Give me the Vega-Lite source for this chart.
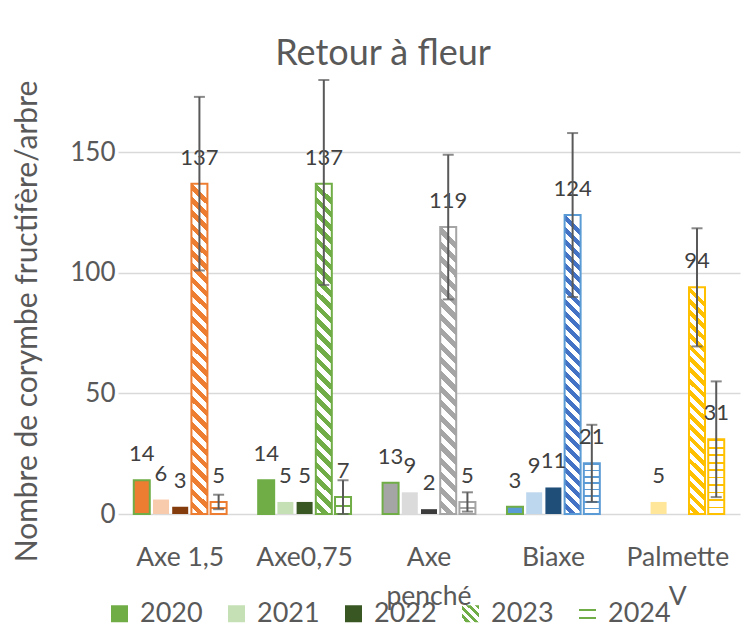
{
"$schema": "https://vega.github.io/schema/vega-lite/v6.json",
"width": 622, "height": 434,
"autosize": {"type": "none"},
"padding": {"left": 118, "top": 80, "right": 13, "bottom": 119},
"background": "white",
"config": {"font": "Lato", "view": {"stroke": null},
  "axisY": {"grid": true, "gridColor": "#D9D9D9", "gridWidth": 1.5, "domain": false, "ticks": false, "labelPadding": 3, "labelAlign": "right", "labelBaseline": "middle", "labelFontSize": 26, "labelColor": "#595959", "labelFont": "Lato",
            "titleFontSize": 30, "titleFontWeight": "normal", "titleColor": "#595959", "titleFont": "Lato", "titleX": -82, "titleY": 241, "titleAlign": "center", "titleBaseline": "alphabetic", "titleAngle": -90}},
"title": {"text": "Retour à fleur", "fontSize": 36, "font": "Lato", "fontWeight": "normal", "color": "#595959", "anchor": "middle", "frame": "group", "baseline": "alphabetic", "offset": 13, "dx": -46, "dy": 35},
"data": {"values": [
{"cat": "Axe 1,5", "year": "2020", "v": 14},
{"cat": "Axe 1,5", "year": "2021", "v": 6},
{"cat": "Axe 1,5", "year": "2022", "v": 3},
{"cat": "Axe 1,5", "year": "2023", "v": 137, "lo": 101, "hi": 173},
{"cat": "Axe 1,5", "year": "2024", "v": 5, "lo": 2, "hi": 8},
{"cat": "Axe0,75", "year": "2020", "v": 14},
{"cat": "Axe0,75", "year": "2021", "v": 5},
{"cat": "Axe0,75", "year": "2022", "v": 5},
{"cat": "Axe0,75", "year": "2023", "v": 137, "lo": 95, "hi": 180},
{"cat": "Axe0,75", "year": "2024", "v": 7, "lo": 0, "hi": 14},
{"cat": "Axe penché", "year": "2020", "v": 13},
{"cat": "Axe penché", "year": "2021", "v": 9},
{"cat": "Axe penché", "year": "2022", "v": 2},
{"cat": "Axe penché", "year": "2023", "v": 119, "lo": 89, "hi": 149},
{"cat": "Axe penché", "year": "2024", "v": 5, "lo": 1, "hi": 9},
{"cat": "Biaxe", "year": "2020", "v": 3},
{"cat": "Biaxe", "year": "2021", "v": 9},
{"cat": "Biaxe", "year": "2022", "v": 11},
{"cat": "Biaxe", "year": "2023", "v": 124, "lo": 90, "hi": 158},
{"cat": "Biaxe", "year": "2024", "v": 21, "lo": 5, "hi": 37},
{"cat": "Palmette V", "year": "2021", "v": 5},
{"cat": "Palmette V", "year": "2023", "v": 94, "lo": 69.5, "hi": 118.5},
{"cat": "Palmette V", "year": "2024", "v": 31, "lo": 7, "hi": 55}
]},
"encoding": {
  "x": {"field": "cat", "type": "nominal", "sort": ["Axe 1,5", "Axe0,75", "Axe penché", "Biaxe", "Palmette V"],
        "scale": {"paddingInner": 0.228, "paddingOuter": 0.114},
        "axis": {"title": null, "domain": false, "ticks": false, "labelAngle": 0, "labelPadding": 30, "labelFontSize": 26.5, "labelColor": "#595959", "labelFont": "Lato", "labelLineHeight": 39, "labelLimit": 0,
                 "labelExpr": "datum.value === 'Axe penché' ? ['Axe', 'penché'] : datum.value === 'Palmette V' ? ['Palmette', 'V'] : datum.label"}},
  "xOffset": {"field": "year", "type": "nominal", "scale": {"domain": ["2020", "2021", "2022", "2023", "2024"], "paddingInner": 0.167, "paddingOuter": 0.083}}
},
"layer": [
{
 "mark": {"type": "bar", "strokeWidth": 2},
 "encoding": {
  "y": {"field": "v", "type": "quantitative", "scale": {"domain": [0, 180], "nice": false},
        "axis": {"title": "Nombre de corymbe fructifère/arbre", "values": [0, 50, 100, 150], "labelAlign": "right", "labelExpr": "datum.label + '\u2003\u200a'"}},
  "fill": {"field": "year", "type": "nominal",
    "scale": {"domain": ["2020", "2021", "2022", "2023", "2024"], "range": ["#70AD47", "#C5E0B4", "#385723",
       {"expr": "{gradient:'linear',x1:1,y1:0,x2:0,y2:1,stops:[{offset:0,color:'#70AD47'},{offset:0.125,color:'#70AD47'},{offset:0.125,color:'#fff'},{offset:0.25,color:'#fff'},{offset:0.25,color:'#70AD47'},{offset:0.375,color:'#70AD47'},{offset:0.375,color:'#fff'},{offset:0.5,color:'#fff'},{offset:0.5,color:'#70AD47'},{offset:0.625,color:'#70AD47'},{offset:0.625,color:'#fff'},{offset:0.75,color:'#fff'},{offset:0.75,color:'#70AD47'},{offset:0.875,color:'#70AD47'},{offset:0.875,color:'#fff'},{offset:1,color:'#fff'}]}"},
       {"expr": "{gradient:'linear',x1:0,y1:0,x2:0,y2:1,stops:[{offset:0,color:'#fff'},{offset:0.2,color:'#fff'},{offset:0.2,color:'#70AD47'},{offset:0.32,color:'#70AD47'},{offset:0.32,color:'#fff'},{offset:0.68,color:'#fff'},{offset:0.68,color:'#70AD47'},{offset:0.8,color:'#70AD47'},{offset:0.8,color:'#fff'},{offset:1,color:'#fff'}]}"}
    ]},
    "legend": {"orient": "none", "legendX": -12, "legendY": 520, "direction": "horizontal", "title": null, "symbolType": "square", "symbolSize": 289, "labelFontSize": 27, "labelColor": "#595959", "labelFont": "Lato", "columnPadding": 20, "labelOffset": 7, "padding": 0, "symbolStrokeWidth": 0},
    "condition": [
      {"test": "datum.cat === 'Axe 1,5' && datum.year === '2020'", "value": "#ED7D31"},
      {"test": "datum.cat === 'Axe 1,5' && datum.year === '2021'", "value": "#F8CBAD"},
      {"test": "datum.cat === 'Axe 1,5' && datum.year === '2022'", "value": "#843C0C"},
      {"test": "datum.cat === 'Axe 1,5' && datum.year === '2023'", "value": {"gradient": "linear", "x1": 0.048, "y1": 0, "x2": 0, "y2": 1, "stops": [{"offset":0,"color":"#fff"},{"offset":0,"color":"#ED7D31"},{"offset":0.02,"color":"#ED7D31"},{"offset":0.02,"color":"#fff"},{"offset":0.04,"color":"#fff"},{"offset":0.04,"color":"#ED7D31"},{"offset":0.06,"color":"#ED7D31"},{"offset":0.06,"color":"#fff"},{"offset":0.08,"color":"#fff"},{"offset":0.08,"color":"#ED7D31"},{"offset":0.1,"color":"#ED7D31"},{"offset":0.1,"color":"#fff"},{"offset":0.12,"color":"#fff"},{"offset":0.12,"color":"#ED7D31"},{"offset":0.14,"color":"#ED7D31"},{"offset":0.14,"color":"#fff"},{"offset":0.16,"color":"#fff"},{"offset":0.16,"color":"#ED7D31"},{"offset":0.18,"color":"#ED7D31"},{"offset":0.18,"color":"#fff"},{"offset":0.2,"color":"#fff"},{"offset":0.2,"color":"#ED7D31"},{"offset":0.22,"color":"#ED7D31"},{"offset":0.22,"color":"#fff"},{"offset":0.24,"color":"#fff"},{"offset":0.24,"color":"#ED7D31"},{"offset":0.26,"color":"#ED7D31"},{"offset":0.26,"color":"#fff"},{"offset":0.28,"color":"#fff"},{"offset":0.28,"color":"#ED7D31"},{"offset":0.3,"color":"#ED7D31"},{"offset":0.3,"color":"#fff"},{"offset":0.32,"color":"#fff"},{"offset":0.32,"color":"#ED7D31"},{"offset":0.34,"color":"#ED7D31"},{"offset":0.34,"color":"#fff"},{"offset":0.36,"color":"#fff"},{"offset":0.36,"color":"#ED7D31"},{"offset":0.38,"color":"#ED7D31"},{"offset":0.38,"color":"#fff"},{"offset":0.4,"color":"#fff"},{"offset":0.4,"color":"#ED7D31"},{"offset":0.42,"color":"#ED7D31"},{"offset":0.42,"color":"#fff"},{"offset":0.44,"color":"#fff"},{"offset":0.44,"color":"#ED7D31"},{"offset":0.46,"color":"#ED7D31"},{"offset":0.46,"color":"#fff"},{"offset":0.48,"color":"#fff"},{"offset":0.48,"color":"#ED7D31"},{"offset":0.5,"color":"#ED7D31"},{"offset":0.5,"color":"#fff"},{"offset":0.52,"color":"#fff"},{"offset":0.52,"color":"#ED7D31"},{"offset":0.54,"color":"#ED7D31"},{"offset":0.54,"color":"#fff"},{"offset":0.56,"color":"#fff"},{"offset":0.56,"color":"#ED7D31"},{"offset":0.58,"color":"#ED7D31"},{"offset":0.58,"color":"#fff"},{"offset":0.6,"color":"#fff"},{"offset":0.6,"color":"#ED7D31"},{"offset":0.62,"color":"#ED7D31"},{"offset":0.62,"color":"#fff"},{"offset":0.64,"color":"#fff"},{"offset":0.64,"color":"#ED7D31"},{"offset":0.66,"color":"#ED7D31"},{"offset":0.66,"color":"#fff"},{"offset":0.68,"color":"#fff"},{"offset":0.68,"color":"#ED7D31"},{"offset":0.7,"color":"#ED7D31"},{"offset":0.7,"color":"#fff"},{"offset":0.72,"color":"#fff"},{"offset":0.72,"color":"#ED7D31"},{"offset":0.74,"color":"#ED7D31"},{"offset":0.74,"color":"#fff"},{"offset":0.76,"color":"#fff"},{"offset":0.76,"color":"#ED7D31"},{"offset":0.78,"color":"#ED7D31"},{"offset":0.78,"color":"#fff"},{"offset":0.8,"color":"#fff"},{"offset":0.8,"color":"#ED7D31"},{"offset":0.82,"color":"#ED7D31"},{"offset":0.82,"color":"#fff"},{"offset":0.84,"color":"#fff"},{"offset":0.84,"color":"#ED7D31"},{"offset":0.86,"color":"#ED7D31"},{"offset":0.86,"color":"#fff"},{"offset":0.88,"color":"#fff"},{"offset":0.88,"color":"#ED7D31"},{"offset":0.9,"color":"#ED7D31"},{"offset":0.9,"color":"#fff"},{"offset":0.92,"color":"#fff"},{"offset":0.92,"color":"#ED7D31"},{"offset":0.94,"color":"#ED7D31"},{"offset":0.94,"color":"#fff"},{"offset":0.96,"color":"#fff"},{"offset":0.96,"color":"#ED7D31"},{"offset":0.98,"color":"#ED7D31"},{"offset":0.98,"color":"#fff"},{"offset":1,"color":"#fff"}]}},
      {"test": "datum.cat === 'Axe 1,5' && datum.year === '2024'", "value": {"gradient": "linear", "x1": 0, "y1": 0, "x2": 0, "y2": 1, "stops": [{"offset":0,"color":"#fff"},{"offset":0.45,"color":"#fff"},{"offset":0.45,"color":"#ED7D31"},{"offset":0.58,"color":"#ED7D31"},{"offset":0.58,"color":"#fff"},{"offset":1,"color":"#fff"}]}},
      {"test": "datum.cat === 'Axe0,75' && datum.year === '2020'", "value": "#70AD47"},
      {"test": "datum.cat === 'Axe0,75' && datum.year === '2021'", "value": "#C5E0B4"},
      {"test": "datum.cat === 'Axe0,75' && datum.year === '2022'", "value": "#385723"},
      {"test": "datum.cat === 'Axe0,75' && datum.year === '2023'", "value": {"gradient": "linear", "x1": 0.048, "y1": 0, "x2": 0, "y2": 1, "stops": [{"offset":0,"color":"#fff"},{"offset":0,"color":"#70AD47"},{"offset":0.02,"color":"#70AD47"},{"offset":0.02,"color":"#fff"},{"offset":0.04,"color":"#fff"},{"offset":0.04,"color":"#70AD47"},{"offset":0.06,"color":"#70AD47"},{"offset":0.06,"color":"#fff"},{"offset":0.08,"color":"#fff"},{"offset":0.08,"color":"#70AD47"},{"offset":0.1,"color":"#70AD47"},{"offset":0.1,"color":"#fff"},{"offset":0.12,"color":"#fff"},{"offset":0.12,"color":"#70AD47"},{"offset":0.14,"color":"#70AD47"},{"offset":0.14,"color":"#fff"},{"offset":0.16,"color":"#fff"},{"offset":0.16,"color":"#70AD47"},{"offset":0.18,"color":"#70AD47"},{"offset":0.18,"color":"#fff"},{"offset":0.2,"color":"#fff"},{"offset":0.2,"color":"#70AD47"},{"offset":0.22,"color":"#70AD47"},{"offset":0.22,"color":"#fff"},{"offset":0.24,"color":"#fff"},{"offset":0.24,"color":"#70AD47"},{"offset":0.26,"color":"#70AD47"},{"offset":0.26,"color":"#fff"},{"offset":0.28,"color":"#fff"},{"offset":0.28,"color":"#70AD47"},{"offset":0.3,"color":"#70AD47"},{"offset":0.3,"color":"#fff"},{"offset":0.32,"color":"#fff"},{"offset":0.32,"color":"#70AD47"},{"offset":0.34,"color":"#70AD47"},{"offset":0.34,"color":"#fff"},{"offset":0.36,"color":"#fff"},{"offset":0.36,"color":"#70AD47"},{"offset":0.38,"color":"#70AD47"},{"offset":0.38,"color":"#fff"},{"offset":0.4,"color":"#fff"},{"offset":0.4,"color":"#70AD47"},{"offset":0.42,"color":"#70AD47"},{"offset":0.42,"color":"#fff"},{"offset":0.44,"color":"#fff"},{"offset":0.44,"color":"#70AD47"},{"offset":0.46,"color":"#70AD47"},{"offset":0.46,"color":"#fff"},{"offset":0.48,"color":"#fff"},{"offset":0.48,"color":"#70AD47"},{"offset":0.5,"color":"#70AD47"},{"offset":0.5,"color":"#fff"},{"offset":0.52,"color":"#fff"},{"offset":0.52,"color":"#70AD47"},{"offset":0.54,"color":"#70AD47"},{"offset":0.54,"color":"#fff"},{"offset":0.56,"color":"#fff"},{"offset":0.56,"color":"#70AD47"},{"offset":0.58,"color":"#70AD47"},{"offset":0.58,"color":"#fff"},{"offset":0.6,"color":"#fff"},{"offset":0.6,"color":"#70AD47"},{"offset":0.62,"color":"#70AD47"},{"offset":0.62,"color":"#fff"},{"offset":0.64,"color":"#fff"},{"offset":0.64,"color":"#70AD47"},{"offset":0.66,"color":"#70AD47"},{"offset":0.66,"color":"#fff"},{"offset":0.68,"color":"#fff"},{"offset":0.68,"color":"#70AD47"},{"offset":0.7,"color":"#70AD47"},{"offset":0.7,"color":"#fff"},{"offset":0.72,"color":"#fff"},{"offset":0.72,"color":"#70AD47"},{"offset":0.74,"color":"#70AD47"},{"offset":0.74,"color":"#fff"},{"offset":0.76,"color":"#fff"},{"offset":0.76,"color":"#70AD47"},{"offset":0.78,"color":"#70AD47"},{"offset":0.78,"color":"#fff"},{"offset":0.8,"color":"#fff"},{"offset":0.8,"color":"#70AD47"},{"offset":0.82,"color":"#70AD47"},{"offset":0.82,"color":"#fff"},{"offset":0.84,"color":"#fff"},{"offset":0.84,"color":"#70AD47"},{"offset":0.86,"color":"#70AD47"},{"offset":0.86,"color":"#fff"},{"offset":0.88,"color":"#fff"},{"offset":0.88,"color":"#70AD47"},{"offset":0.9,"color":"#70AD47"},{"offset":0.9,"color":"#fff"},{"offset":0.92,"color":"#fff"},{"offset":0.92,"color":"#70AD47"},{"offset":0.94,"color":"#70AD47"},{"offset":0.94,"color":"#fff"},{"offset":0.96,"color":"#fff"},{"offset":0.96,"color":"#70AD47"},{"offset":0.98,"color":"#70AD47"},{"offset":0.98,"color":"#fff"},{"offset":1,"color":"#fff"}]}},
      {"test": "datum.cat === 'Axe0,75' && datum.year === '2024'", "value": {"gradient": "linear", "x1": 0, "y1": 0, "x2": 0, "y2": 1, "stops": [{"offset":0,"color":"#fff"},{"offset":0.45,"color":"#fff"},{"offset":0.45,"color":"#70AD47"},{"offset":0.58,"color":"#70AD47"},{"offset":0.58,"color":"#fff"},{"offset":1,"color":"#fff"}]}},
      {"test": "datum.cat === 'Axe penché' && datum.year === '2020'", "value": "#A5A5A5"},
      {"test": "datum.cat === 'Axe penché' && datum.year === '2021'", "value": "#DBDBDB"},
      {"test": "datum.cat === 'Axe penché' && datum.year === '2022'", "value": "#3B3B3B"},
      {"test": "datum.cat === 'Axe penché' && datum.year === '2023'", "value": {"gradient": "linear", "x1": 0.056, "y1": 0, "x2": 0, "y2": 1, "stops": [{"offset":0,"color":"#fff"},{"offset":0,"color":"#A5A5A5"},{"offset":0.025,"color":"#A5A5A5"},{"offset":0.025,"color":"#fff"},{"offset":0.05,"color":"#fff"},{"offset":0.05,"color":"#A5A5A5"},{"offset":0.075,"color":"#A5A5A5"},{"offset":0.075,"color":"#fff"},{"offset":0.1,"color":"#fff"},{"offset":0.1,"color":"#A5A5A5"},{"offset":0.125,"color":"#A5A5A5"},{"offset":0.125,"color":"#fff"},{"offset":0.15,"color":"#fff"},{"offset":0.15,"color":"#A5A5A5"},{"offset":0.175,"color":"#A5A5A5"},{"offset":0.175,"color":"#fff"},{"offset":0.2,"color":"#fff"},{"offset":0.2,"color":"#A5A5A5"},{"offset":0.225,"color":"#A5A5A5"},{"offset":0.225,"color":"#fff"},{"offset":0.25,"color":"#fff"},{"offset":0.25,"color":"#A5A5A5"},{"offset":0.275,"color":"#A5A5A5"},{"offset":0.275,"color":"#fff"},{"offset":0.3,"color":"#fff"},{"offset":0.3,"color":"#A5A5A5"},{"offset":0.325,"color":"#A5A5A5"},{"offset":0.325,"color":"#fff"},{"offset":0.35,"color":"#fff"},{"offset":0.35,"color":"#A5A5A5"},{"offset":0.375,"color":"#A5A5A5"},{"offset":0.375,"color":"#fff"},{"offset":0.4,"color":"#fff"},{"offset":0.4,"color":"#A5A5A5"},{"offset":0.425,"color":"#A5A5A5"},{"offset":0.425,"color":"#fff"},{"offset":0.45,"color":"#fff"},{"offset":0.45,"color":"#A5A5A5"},{"offset":0.475,"color":"#A5A5A5"},{"offset":0.475,"color":"#fff"},{"offset":0.5,"color":"#fff"},{"offset":0.5,"color":"#A5A5A5"},{"offset":0.525,"color":"#A5A5A5"},{"offset":0.525,"color":"#fff"},{"offset":0.55,"color":"#fff"},{"offset":0.55,"color":"#A5A5A5"},{"offset":0.575,"color":"#A5A5A5"},{"offset":0.575,"color":"#fff"},{"offset":0.6,"color":"#fff"},{"offset":0.6,"color":"#A5A5A5"},{"offset":0.625,"color":"#A5A5A5"},{"offset":0.625,"color":"#fff"},{"offset":0.65,"color":"#fff"},{"offset":0.65,"color":"#A5A5A5"},{"offset":0.675,"color":"#A5A5A5"},{"offset":0.675,"color":"#fff"},{"offset":0.7,"color":"#fff"},{"offset":0.7,"color":"#A5A5A5"},{"offset":0.725,"color":"#A5A5A5"},{"offset":0.725,"color":"#fff"},{"offset":0.75,"color":"#fff"},{"offset":0.75,"color":"#A5A5A5"},{"offset":0.775,"color":"#A5A5A5"},{"offset":0.775,"color":"#fff"},{"offset":0.8,"color":"#fff"},{"offset":0.8,"color":"#A5A5A5"},{"offset":0.825,"color":"#A5A5A5"},{"offset":0.825,"color":"#fff"},{"offset":0.85,"color":"#fff"},{"offset":0.85,"color":"#A5A5A5"},{"offset":0.875,"color":"#A5A5A5"},{"offset":0.875,"color":"#fff"},{"offset":0.9,"color":"#fff"},{"offset":0.9,"color":"#A5A5A5"},{"offset":0.925,"color":"#A5A5A5"},{"offset":0.925,"color":"#fff"},{"offset":0.95,"color":"#fff"},{"offset":0.95,"color":"#A5A5A5"},{"offset":0.975,"color":"#A5A5A5"},{"offset":0.975,"color":"#fff"},{"offset":1,"color":"#fff"}]}},
      {"test": "datum.cat === 'Axe penché' && datum.year === '2024'", "value": {"gradient": "linear", "x1": 0, "y1": 0, "x2": 0, "y2": 1, "stops": [{"offset":0,"color":"#fff"},{"offset":0.45,"color":"#fff"},{"offset":0.45,"color":"#A5A5A5"},{"offset":0.58,"color":"#A5A5A5"},{"offset":0.58,"color":"#fff"},{"offset":1,"color":"#fff"}]}},
      {"test": "datum.cat === 'Biaxe' && datum.year === '2020'", "value": "#5B9BD5"},
      {"test": "datum.cat === 'Biaxe' && datum.year === '2021'", "value": "#BDD7EE"},
      {"test": "datum.cat === 'Biaxe' && datum.year === '2022'", "value": "#1F4E79"},
      {"test": "datum.cat === 'Biaxe' && datum.year === '2023'", "value": {"gradient": "linear", "x1": 0.054, "y1": 0, "x2": 0, "y2": 1, "stops": [{"offset":0,"color":"#fff"},{"offset":0,"color":"#4472C4"},{"offset":0.02,"color":"#4472C4"},{"offset":0.02,"color":"#fff"},{"offset":0.04,"color":"#fff"},{"offset":0.04,"color":"#4472C4"},{"offset":0.06,"color":"#4472C4"},{"offset":0.06,"color":"#fff"},{"offset":0.08,"color":"#fff"},{"offset":0.08,"color":"#4472C4"},{"offset":0.1,"color":"#4472C4"},{"offset":0.1,"color":"#fff"},{"offset":0.12,"color":"#fff"},{"offset":0.12,"color":"#4472C4"},{"offset":0.14,"color":"#4472C4"},{"offset":0.14,"color":"#fff"},{"offset":0.16,"color":"#fff"},{"offset":0.16,"color":"#4472C4"},{"offset":0.18,"color":"#4472C4"},{"offset":0.18,"color":"#fff"},{"offset":0.2,"color":"#fff"},{"offset":0.2,"color":"#4472C4"},{"offset":0.22,"color":"#4472C4"},{"offset":0.22,"color":"#fff"},{"offset":0.24,"color":"#fff"},{"offset":0.24,"color":"#4472C4"},{"offset":0.26,"color":"#4472C4"},{"offset":0.26,"color":"#fff"},{"offset":0.28,"color":"#fff"},{"offset":0.28,"color":"#4472C4"},{"offset":0.3,"color":"#4472C4"},{"offset":0.3,"color":"#fff"},{"offset":0.32,"color":"#fff"},{"offset":0.32,"color":"#4472C4"},{"offset":0.34,"color":"#4472C4"},{"offset":0.34,"color":"#fff"},{"offset":0.36,"color":"#fff"},{"offset":0.36,"color":"#4472C4"},{"offset":0.38,"color":"#4472C4"},{"offset":0.38,"color":"#fff"},{"offset":0.4,"color":"#fff"},{"offset":0.4,"color":"#4472C4"},{"offset":0.42,"color":"#4472C4"},{"offset":0.42,"color":"#fff"},{"offset":0.44,"color":"#fff"},{"offset":0.44,"color":"#4472C4"},{"offset":0.46,"color":"#4472C4"},{"offset":0.46,"color":"#fff"},{"offset":0.48,"color":"#fff"},{"offset":0.48,"color":"#4472C4"},{"offset":0.5,"color":"#4472C4"},{"offset":0.5,"color":"#fff"},{"offset":0.52,"color":"#fff"},{"offset":0.52,"color":"#4472C4"},{"offset":0.54,"color":"#4472C4"},{"offset":0.54,"color":"#fff"},{"offset":0.56,"color":"#fff"},{"offset":0.56,"color":"#4472C4"},{"offset":0.58,"color":"#4472C4"},{"offset":0.58,"color":"#fff"},{"offset":0.6,"color":"#fff"},{"offset":0.6,"color":"#4472C4"},{"offset":0.62,"color":"#4472C4"},{"offset":0.62,"color":"#fff"},{"offset":0.64,"color":"#fff"},{"offset":0.64,"color":"#4472C4"},{"offset":0.66,"color":"#4472C4"},{"offset":0.66,"color":"#fff"},{"offset":0.68,"color":"#fff"},{"offset":0.68,"color":"#4472C4"},{"offset":0.7,"color":"#4472C4"},{"offset":0.7,"color":"#fff"},{"offset":0.72,"color":"#fff"},{"offset":0.72,"color":"#4472C4"},{"offset":0.74,"color":"#4472C4"},{"offset":0.74,"color":"#fff"},{"offset":0.76,"color":"#fff"},{"offset":0.76,"color":"#4472C4"},{"offset":0.78,"color":"#4472C4"},{"offset":0.78,"color":"#fff"},{"offset":0.8,"color":"#fff"},{"offset":0.8,"color":"#4472C4"},{"offset":0.82,"color":"#4472C4"},{"offset":0.82,"color":"#fff"},{"offset":0.84,"color":"#fff"},{"offset":0.84,"color":"#4472C4"},{"offset":0.86,"color":"#4472C4"},{"offset":0.86,"color":"#fff"},{"offset":0.88,"color":"#fff"},{"offset":0.88,"color":"#4472C4"},{"offset":0.9,"color":"#4472C4"},{"offset":0.9,"color":"#fff"},{"offset":0.92,"color":"#fff"},{"offset":0.92,"color":"#4472C4"},{"offset":0.94,"color":"#4472C4"},{"offset":0.94,"color":"#fff"},{"offset":0.96,"color":"#fff"},{"offset":0.96,"color":"#4472C4"},{"offset":0.98,"color":"#4472C4"},{"offset":0.98,"color":"#fff"},{"offset":1,"color":"#fff"}]}},
      {"test": "datum.cat === 'Biaxe' && datum.year === '2024'", "value": {"gradient": "linear", "x1": 0, "y1": 0, "x2": 0, "y2": 1, "stops": [{"offset":0,"color":"#5B9BD5"},{"offset":0.03,"color":"#5B9BD5"},{"offset":0.03,"color":"#fff"},{"offset":0.125,"color":"#fff"},{"offset":0.125,"color":"#5B9BD5"},{"offset":0.155,"color":"#5B9BD5"},{"offset":0.155,"color":"#fff"},{"offset":0.25,"color":"#fff"},{"offset":0.25,"color":"#5B9BD5"},{"offset":0.28,"color":"#5B9BD5"},{"offset":0.28,"color":"#fff"},{"offset":0.375,"color":"#fff"},{"offset":0.375,"color":"#5B9BD5"},{"offset":0.405,"color":"#5B9BD5"},{"offset":0.405,"color":"#fff"},{"offset":0.5,"color":"#fff"},{"offset":0.5,"color":"#5B9BD5"},{"offset":0.53,"color":"#5B9BD5"},{"offset":0.53,"color":"#fff"},{"offset":0.625,"color":"#fff"},{"offset":0.625,"color":"#5B9BD5"},{"offset":0.655,"color":"#5B9BD5"},{"offset":0.655,"color":"#fff"},{"offset":0.75,"color":"#fff"},{"offset":0.75,"color":"#5B9BD5"},{"offset":0.78,"color":"#5B9BD5"},{"offset":0.78,"color":"#fff"},{"offset":0.875,"color":"#fff"},{"offset":0.875,"color":"#5B9BD5"},{"offset":0.905,"color":"#5B9BD5"},{"offset":0.905,"color":"#fff"},{"offset":1,"color":"#fff"}]}},
      {"test": "datum.cat === 'Palmette V' && datum.year === '2021'", "value": "#FFE699"},
      {"test": "datum.cat === 'Palmette V' && datum.year === '2023'", "value": {"gradient": "linear", "x1": 0.07, "y1": 0, "x2": 0, "y2": 1, "stops": [{"offset":0,"color":"#fff"},{"offset":0,"color":"#FFC000"},{"offset":0.025,"color":"#FFC000"},{"offset":0.025,"color":"#fff"},{"offset":0.05,"color":"#fff"},{"offset":0.05,"color":"#FFC000"},{"offset":0.075,"color":"#FFC000"},{"offset":0.075,"color":"#fff"},{"offset":0.1,"color":"#fff"},{"offset":0.1,"color":"#FFC000"},{"offset":0.125,"color":"#FFC000"},{"offset":0.125,"color":"#fff"},{"offset":0.15,"color":"#fff"},{"offset":0.15,"color":"#FFC000"},{"offset":0.175,"color":"#FFC000"},{"offset":0.175,"color":"#fff"},{"offset":0.2,"color":"#fff"},{"offset":0.2,"color":"#FFC000"},{"offset":0.225,"color":"#FFC000"},{"offset":0.225,"color":"#fff"},{"offset":0.25,"color":"#fff"},{"offset":0.25,"color":"#FFC000"},{"offset":0.275,"color":"#FFC000"},{"offset":0.275,"color":"#fff"},{"offset":0.3,"color":"#fff"},{"offset":0.3,"color":"#FFC000"},{"offset":0.325,"color":"#FFC000"},{"offset":0.325,"color":"#fff"},{"offset":0.35,"color":"#fff"},{"offset":0.35,"color":"#FFC000"},{"offset":0.375,"color":"#FFC000"},{"offset":0.375,"color":"#fff"},{"offset":0.4,"color":"#fff"},{"offset":0.4,"color":"#FFC000"},{"offset":0.425,"color":"#FFC000"},{"offset":0.425,"color":"#fff"},{"offset":0.45,"color":"#fff"},{"offset":0.45,"color":"#FFC000"},{"offset":0.475,"color":"#FFC000"},{"offset":0.475,"color":"#fff"},{"offset":0.5,"color":"#fff"},{"offset":0.5,"color":"#FFC000"},{"offset":0.525,"color":"#FFC000"},{"offset":0.525,"color":"#fff"},{"offset":0.55,"color":"#fff"},{"offset":0.55,"color":"#FFC000"},{"offset":0.575,"color":"#FFC000"},{"offset":0.575,"color":"#fff"},{"offset":0.6,"color":"#fff"},{"offset":0.6,"color":"#FFC000"},{"offset":0.625,"color":"#FFC000"},{"offset":0.625,"color":"#fff"},{"offset":0.65,"color":"#fff"},{"offset":0.65,"color":"#FFC000"},{"offset":0.675,"color":"#FFC000"},{"offset":0.675,"color":"#fff"},{"offset":0.7,"color":"#fff"},{"offset":0.7,"color":"#FFC000"},{"offset":0.725,"color":"#FFC000"},{"offset":0.725,"color":"#fff"},{"offset":0.75,"color":"#fff"},{"offset":0.75,"color":"#FFC000"},{"offset":0.775,"color":"#FFC000"},{"offset":0.775,"color":"#fff"},{"offset":0.8,"color":"#fff"},{"offset":0.8,"color":"#FFC000"},{"offset":0.825,"color":"#FFC000"},{"offset":0.825,"color":"#fff"},{"offset":0.85,"color":"#fff"},{"offset":0.85,"color":"#FFC000"},{"offset":0.875,"color":"#FFC000"},{"offset":0.875,"color":"#fff"},{"offset":0.9,"color":"#fff"},{"offset":0.9,"color":"#FFC000"},{"offset":0.925,"color":"#FFC000"},{"offset":0.925,"color":"#fff"},{"offset":0.95,"color":"#fff"},{"offset":0.95,"color":"#FFC000"},{"offset":0.975,"color":"#FFC000"},{"offset":0.975,"color":"#fff"},{"offset":1,"color":"#fff"}]}},
      {"test": "datum.cat === 'Palmette V' && datum.year === '2024'", "value": {"gradient": "linear", "x1": 0, "y1": 0, "x2": 0, "y2": 1, "stops": [{"offset":0,"color":"#FFC000"},{"offset":0.025,"color":"#FFC000"},{"offset":0.025,"color":"#fff"},{"offset":0.1,"color":"#fff"},{"offset":0.1,"color":"#FFC000"},{"offset":0.125,"color":"#FFC000"},{"offset":0.125,"color":"#fff"},{"offset":0.2,"color":"#fff"},{"offset":0.2,"color":"#FFC000"},{"offset":0.225,"color":"#FFC000"},{"offset":0.225,"color":"#fff"},{"offset":0.3,"color":"#fff"},{"offset":0.3,"color":"#FFC000"},{"offset":0.325,"color":"#FFC000"},{"offset":0.325,"color":"#fff"},{"offset":0.4,"color":"#fff"},{"offset":0.4,"color":"#FFC000"},{"offset":0.425,"color":"#FFC000"},{"offset":0.425,"color":"#fff"},{"offset":0.5,"color":"#fff"},{"offset":0.5,"color":"#FFC000"},{"offset":0.525,"color":"#FFC000"},{"offset":0.525,"color":"#fff"},{"offset":0.6,"color":"#fff"},{"offset":0.6,"color":"#FFC000"},{"offset":0.625,"color":"#FFC000"},{"offset":0.625,"color":"#fff"},{"offset":0.7,"color":"#fff"},{"offset":0.7,"color":"#FFC000"},{"offset":0.725,"color":"#FFC000"},{"offset":0.725,"color":"#fff"},{"offset":0.8,"color":"#fff"},{"offset":0.8,"color":"#FFC000"},{"offset":0.825,"color":"#FFC000"},{"offset":0.825,"color":"#fff"},{"offset":0.9,"color":"#fff"},{"offset":0.9,"color":"#FFC000"},{"offset":0.925,"color":"#FFC000"},{"offset":0.925,"color":"#fff"},{"offset":1,"color":"#fff"}]}}
    ]},
  "stroke": {
    "condition": [
      {"test": "datum.year === '2020'", "value": "#70AD47"},
      {"test": "datum.cat === 'Axe 1,5' && datum.year >= '2023'", "value": "#ED7D31"},
      {"test": "datum.cat === 'Axe0,75' && datum.year >= '2023'", "value": "#70AD47"},
      {"test": "datum.cat === 'Axe penché' && datum.year >= '2023'", "value": "#A5A5A5"},
      {"test": "datum.cat === 'Biaxe' && datum.year >= '2023'", "value": "#5B9BD5"},
      {"test": "datum.cat === 'Palmette V' && datum.year >= '2023'", "value": "#FFC000"}
    ],
    "value": "transparent"}
 }
},
{
 "mark": {"type": "text", "baseline": "alphabetic", "dy": -19, "fontSize": 22, "font": "Lato", "color": "#404040"},
 "encoding": {
  "y": {"field": "v", "type": "quantitative", "scale": {"domain": [0, 180], "nice": false}},
  "text": {"field": "v", "type": "quantitative"}
 }
},
{
 "transform": [{"filter": "isValid(datum.lo)"}],
 "mark": {"type": "rule", "color": "#595959", "strokeWidth": 2},
 "encoding": {
  "y": {"field": "lo", "type": "quantitative", "scale": {"domain": [0, 180], "nice": false}},
  "y2": {"field": "hi"}
 }
},
{
 "transform": [{"filter": "isValid(datum.lo)"}],
 "mark": {"type": "tick", "orient": "horizontal", "color": "#595959", "thickness": 2, "size": 11},
 "encoding": {
  "y": {"field": "lo", "type": "quantitative", "scale": {"domain": [0, 180], "nice": false}}
 }
},
{
 "transform": [{"filter": "isValid(datum.hi)"}],
 "mark": {"type": "tick", "orient": "horizontal", "color": "#595959", "thickness": 2, "size": 11},
 "encoding": {
  "y": {"field": "hi", "type": "quantitative", "scale": {"domain": [0, 180], "nice": false}}
 }
}
]
}
